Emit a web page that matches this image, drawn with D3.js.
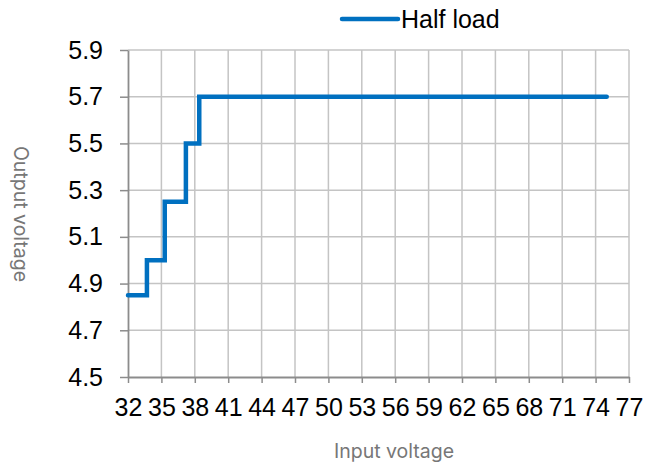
<!DOCTYPE html>
<html>
<head>
<meta charset="utf-8">
<script src="https://cdn.jsdelivr.net/npm/d3@7"></script>
<style>
  body { margin: 0; background: #fff; }
  svg { display: block; }
</style>
</head>
<body>
<div id="chart"></div>
<script>
// Step points (curveStepAfter draws the risers)
var inputVoltage = [32, 33.7, 35.3, 37.2, 38.4, 75];
var outputVoltage = [4.85, 5.0, 5.25, 5.5, 5.7, 5.7];
var xTicks = [32, 35, 38, 41, 44, 47, 50, 53, 56, 59, 62, 65, 68, 71, 74, 77];
var yTicks = [4.5, 4.7, 4.9, 5.1, 5.3, 5.5, 5.7, 5.9];
var seriesName = 'Half load';

var width = 646, height = 468;
var margin = {top: 50, right: 17, bottom: 91, left: 128};

var svg = d3.select('#chart').append('svg')
    .attr('width', width)
    .attr('height', height);

var x = d3.scaleLinear().domain([32, 77]).range([margin.left, width - margin.right]);
var y = d3.scaleLinear().domain([4.5, 5.9]).range([height - margin.bottom, margin.top]);

// grid
var grid = svg.append('g').attr('class', 'grid');
grid.selectAll('line.v')
    .data(xTicks.slice(1))
  .enter().append('line')
    .attr('class', 'v')
    .attr('x1', function (d) { return x(d); })
    .attr('x2', function (d) { return x(d); })
    .attr('y1', y(5.9))
    .attr('y2', y(4.5))
    .attr('stroke', '#c4c4c4')
    .attr('stroke-width', 1.5);

grid.selectAll('line.h')
    .data(yTicks.slice(1))
  .enter().append('line')
    .attr('class', 'h')
    .attr('x1', x(32))
    .attr('x2', x(77))
    .attr('y1', function (d) { return y(d); })
    .attr('y2', function (d) { return y(d); })
    .attr('stroke', '#c4c4c4')
    .attr('stroke-width', 1.5);

// axes
var xAxis = svg.append('g')
    .attr('transform', 'translate(0,' + y(4.5) + ')')
    .call(d3.axisBottom(x).tickValues(xTicks).tickSize(6).tickPadding(15).tickSizeOuter(0));

var yAxis = svg.append('g')
    .attr('transform', 'translate(' + x(32) + ',0)')
    .call(d3.axisLeft(y).tickValues(yTicks).tickSize(8).tickPadding(17)
        .tickFormat(d3.format('.1f')).tickSizeOuter(0));

[xAxis, yAxis].forEach(function (axis) {
    axis.select('.domain').attr('stroke', '#8c8c8c').attr('stroke-width', 1.8);
    axis.selectAll('.tick line').attr('stroke', '#8c8c8c').attr('stroke-width', 1.5);
    axis.selectAll('.tick text')
        .attr('fill', '#000')
        .style('font-family', '"Liberation Sans", Arial, sans-serif')
        .style('font-size', '25px');
});

// series
var points = d3.zip(inputVoltage, outputVoltage);
var line = d3.line()
    .x(function (d) { return x(d[0]); })
    .y(function (d) { return y(d[1]); })
    .curve(d3.curveStepAfter);

svg.append('path')
    .datum(points)
    .attr('d', line)
    .attr('fill', 'none')
    .attr('stroke', '#0070c0')
    .attr('stroke-width', 4.5)
    .attr('stroke-linecap', 'round');

// legend
var legend = svg.append('g').attr('transform', 'translate(342,19)');
legend.append('line')
    .attr('x1', 0).attr('x2', 56)
    .attr('y1', 0).attr('y2', 0)
    .attr('stroke', '#0070c0')
    .attr('stroke-width', 4.5)
    .attr('stroke-linecap', 'round');
legend.append('text')
    .attr('x', 59)
    .attr('y', 9)
    .style('font-family', '"Liberation Sans", Arial, sans-serif')
    .style('font-size', '25px')
    .text(seriesName);

// axis titles
svg.append('text')
    .attr('x', 394)
    .attr('y', 458)
    .attr('text-anchor', 'middle')
    .attr('fill', '#777')
    .style('font-family', 'Inter, Roboto, sans-serif')
    .style('font-size', '19.5px')
    .text('Input voltage');

svg.append('text')
    .attr('transform', 'translate(14,' + 214 + ') rotate(90)')
    .attr('text-anchor', 'middle')
    .attr('fill', '#777')
    .style('font-family', 'Inter, Roboto, sans-serif')
    .style('font-size', '19.5px')
    .text('Output voltage');
</script>
</body>
</html>
